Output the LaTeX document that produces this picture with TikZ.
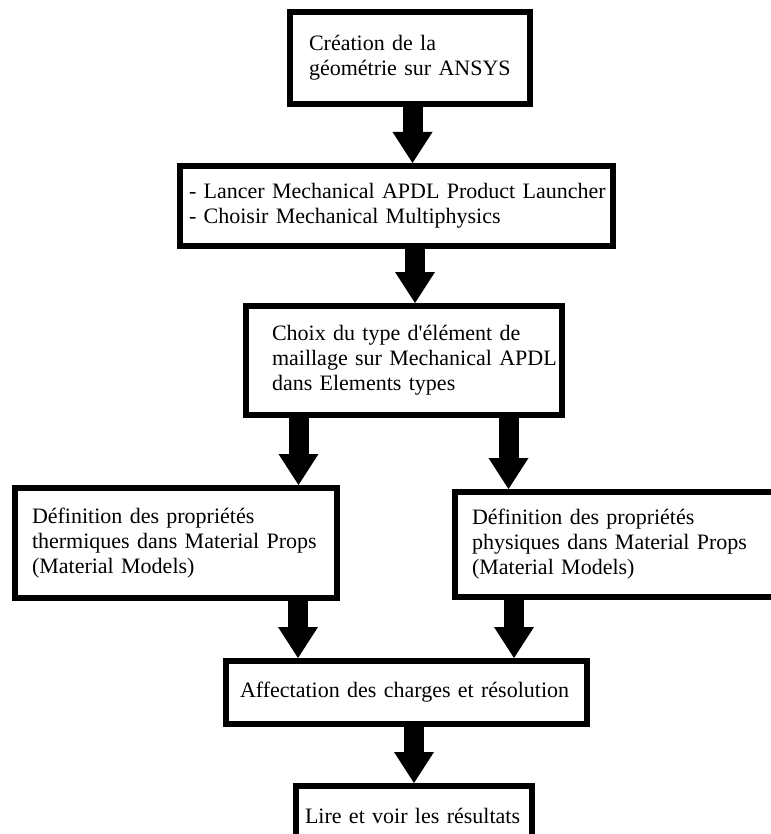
\documentclass[tikz,border=0pt]{standalone}
\usepackage{fontspec}
\setmainfont{Liberation Serif}
\usetikzlibrary{arrows.meta,positioning}

\tikzset{
  etape/.style={draw=black, line width=6pt, fill=white, align=left,
    inner ysep=0pt, font=\fontsize{22pt}{25pt}\selectfont},
  grossefleche/.style={draw=black, line width=20pt,
    -{Triangle[width=40pt,length=31pt,line width=0pt]}}
}

\begin{document}
\begin{tikzpicture}[x=1pt,y=-1pt]
  \useasboundingbox (0,0) rectangle (770,834);
  \fill[white] (0,0) rectangle (770,834);

  % boites
  \node[etape, minimum width=240pt, minimum height=92pt, text width=202pt, inner xsep=19pt]
    (creation) at (410,58) {Création de la\\géométrie sur ANSYS};
  \node[etape, minimum width=433pt, minimum height=80pt, text width=415pt, inner xsep=9pt]
    (lancer) at (396.5,206) {\mbox{- Lancer Mechanical APDL Product Launcher}\\- Choisir Mechanical Multiphysics};
  \node[etape, minimum width=316pt, minimum height=109pt, text width=264pt, inner xsep=26pt]
    (choix) at (404,360.5) {Choix du type d\textquotesingle élément de\\\mbox{maillage sur Mechanical APDL}\\dans Elements types};
  \node[etape, minimum width=322pt, minimum height=110pt, text width=288pt, inner xsep=17pt]
    (thermique) at (176,543) {Définition des propriétés\\thermiques dans Material Props\\(Material Models)};
  \node[etape, minimum width=330pt, minimum height=105pt, text width=296pt, inner xsep=17pt]
    (physique) at (620,544.5) {Définition des propriétés\\physiques dans Material Props\\(Material Models)};
  \node[etape, minimum width=361pt, minimum height=63pt, text width=333pt, inner xsep=14pt]
    (charges) at (406.5,692.5) {\mbox{Affectation des charges et résolution}};
  \node[etape, minimum width=236pt, minimum height=60pt, text width=218pt, inner xsep=9pt]
    (resultats) at (414,816) {\mbox{Lire et voir les résultats}};

  % fleches
  \draw[grossefleche] ([xshift=2.5pt]creation.south) -- ([xshift=16pt]lancer.north);
  \draw[grossefleche] ([xshift=18.5pt]lancer.south) -- ([xshift=11pt]choix.north);
  \draw[grossefleche] ([xshift=-105.5pt]choix.south) -- ([xshift=122.5pt]thermique.north);
  \draw[grossefleche] ([xshift=104.5pt]choix.south) -- ([xshift=-111.5pt]physique.north);
  \draw[grossefleche] ([xshift=122pt]thermique.south) -- ([xshift=-108.5pt]charges.north);
  \draw[grossefleche] ([xshift=-106pt]physique.south) -- ([xshift=107.5pt]charges.north);
  \draw[grossefleche] ([xshift=7.5pt]charges.south) -- (resultats.north);
\end{tikzpicture}
\end{document}
